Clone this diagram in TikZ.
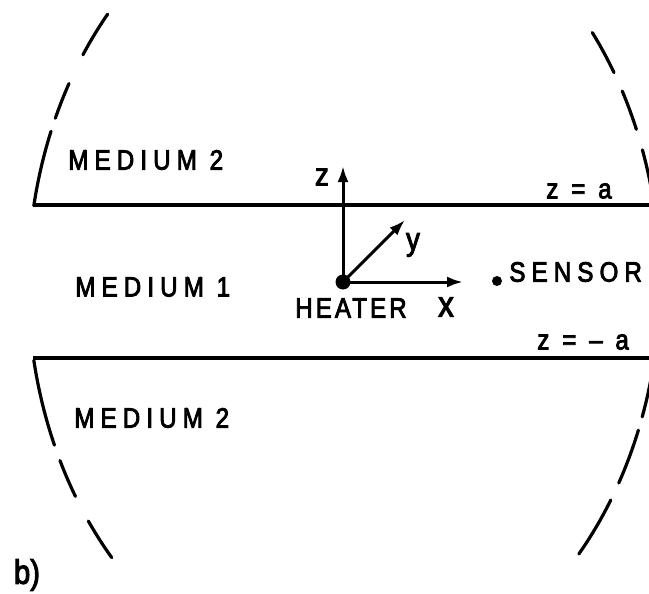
\documentclass[tikz,border=0pt]{standalone}
\usepackage{fontspec}
\setmainfont{Liberation Sans}[LetterSpace=22, FakeStretch=0.86, FakeBold=3]
\usetikzlibrary{arrows.meta}
\begin{document}
\begin{tikzpicture}[x=0.5pt,y=-0.5pt,
  bnd/.style={line width=1.9pt},
  arcline/.style={line width=1.6pt, line cap=round},
  axis/.style={line width=1.5pt,-{Latex[length=8pt,width=5.5pt]}},
  lab/.style={inner sep=0pt, font=\fontsize{14}{16}\selectfont},
  dotnode/.style={circle, fill, inner sep=0pt},
]
\useasboundingbox (0,0) rectangle (649,594);
\begin{scope}
\clip (0,0) rectangle (649,594);
% dashed boundary of the ellipse
\foreach \a/\b in {138.4/145.7, 150.5/156, 158/169, 31.3/38.2, 22.3/28.3, 10/19.2,
                   191/203.6, 206/211.8, 216/222.7, -19.3/-10, -29.6/-21.3, -42/-32.4}
  \draw[arcline] plot[domain=\a:\b, samples=30, variable=\t]
    ({344+316*cos(\t)},{283-405*sin(\t)});
% interfaces
\coordinate (L1) at (34,205);
\coordinate (R1) at (660,205);
\coordinate (L2) at (33,358);
\coordinate (R2) at (660,358);
\draw[bnd] (L1) -- (R1);
\draw[bnd] (L2) -- (R2);
\end{scope}
% heater and axes
\node[dotnode, minimum size=7.5pt] (heater) at (343,282) {};
\coordinate (ztip) at (343,166);
\coordinate (xtip) at (463,282);
\coordinate (ytip) at (405,220);
\draw[axis] (heater.center) -- (ztip);
\draw[axis] (heater.center) -- (xtip);
\draw[axis] (heater.center) -- (ytip);
% sensor
\node[dotnode, minimum size=5pt] (sensor) at (497,281) {};
% labels
\node[lab, anchor=west] (m2a) at (68,160) {MEDIUM 2};
\node[lab, anchor=west] (m1) at (75,287) {MEDIUM 1};
\node[lab, anchor=west] (m2b) at (74,418) {MEDIUM 2};
\node[lab, font=\fontsize{16}{18}\selectfont] (zl) at (322,177) {z};
\node[lab, font=\fontsize{16}{18}\selectfont] (yl) at (413,245) {y};
\node[lab, font=\fontsize{18}{20}\selectfont] (xl) at (446,307) {x};
\node[lab] (heatl) at (351,308) {\addfontfeature{LetterSpace=11}HEATER};
\node[lab, anchor=west] (sensl) at (509,272) {SENSOR};
\node[lab, anchor=west] (zeq) at (546,191) {z = a};
\node[lab, anchor=west] (zeqm) at (537,342) {z = – a};
\node[inner sep=0pt, font=\fontsize{17}{20}\selectfont] (bl) at (27,575) {\addfontfeature{LetterSpace=0}b)};
\end{tikzpicture}
\end{document}
